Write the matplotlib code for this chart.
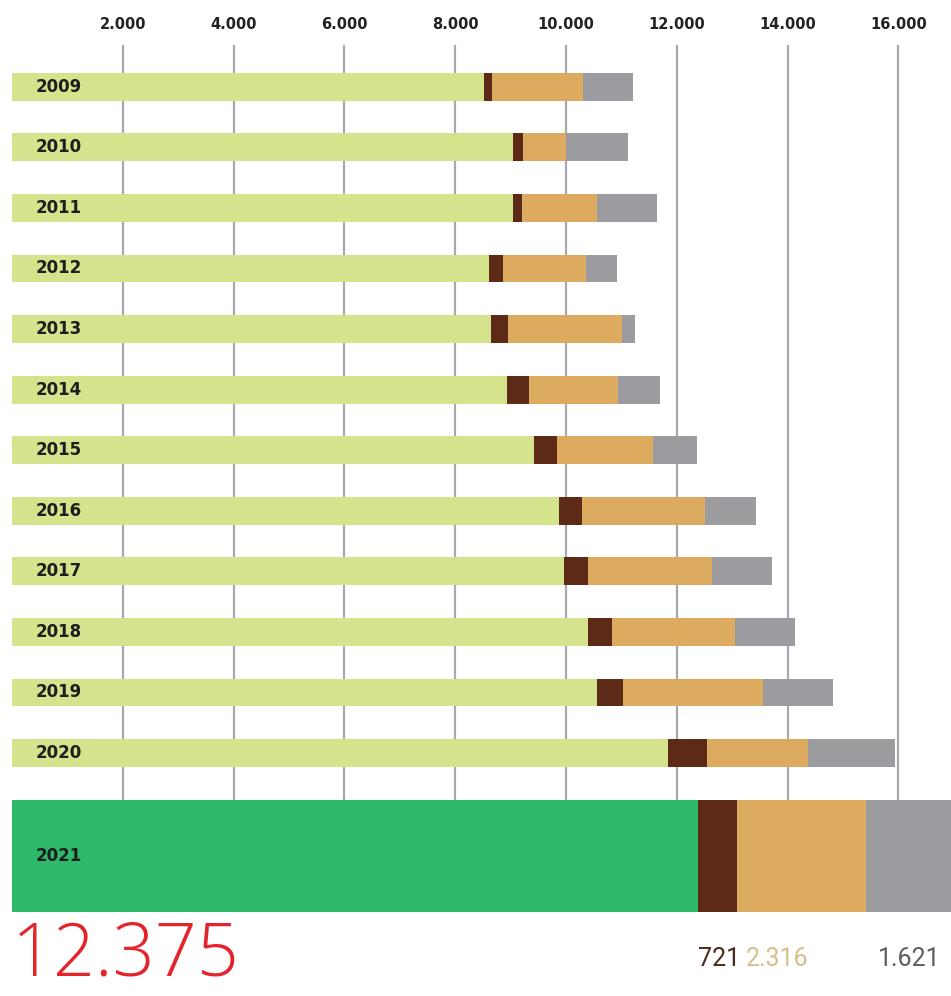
import matplotlib.pyplot as plt
import numpy as np

# Values (units per year)
years = ["2009", "2010", "2011", "2012", "2013", "2014", "2015",
         "2016", "2017", "2018", "2019", "2020", "2021"]
green = [8520, 9040, 9040, 8610, 8650, 8940, 9420, 9870, 9960, 10400, 10560, 11840, 12375]
brown = [145, 180, 160, 250, 305, 395, 415, 415, 435, 435, 470, 705, 721]
tan = [1645, 775, 1355, 1500, 2060, 1605, 1735, 2220, 2240, 2220, 2525, 1825, 2316]
gray = [905, 1120, 1085, 560, 235, 760, 795, 920, 1085, 1085, 1265, 1570, 1621]
ticks = [2000, 4000, 6000, 8000, 10000, 12000, 14000, 16000]

LIGHT_GREEN = "#d5e38c"
GREEN = "#2fb96b"
BROWN = "#5c2a16"
TAN = "#dcab5f"
GRAY = "#9c9ba0"
RED = "#e3242b"


def fmt(v):
    return f"{v:,.0f}".replace(",", ".")


fig = plt.figure(figsize=(9.51, 9.96), dpi=100)
ax = fig.add_axes([12 / 951, 1 - 912 / 996, 939 / 951, (912 - 45) / 996])

# the last year is drawn as a big highlighted bar
n = len(years)
ypos = np.array(list(range(n - 1)) + [n - 2 + 1.7])
heights = np.array([0.46] * (n - 1) + [1.85])
face = [LIGHT_GREEN] * (n - 1) + [GREEN]

g = np.array(green)
b = np.array(brown)
t = np.array(tan)
ax.barh(ypos, g, height=heights, color=face, zorder=2)
ax.barh(ypos, b, left=g, height=heights, color=BROWN, zorder=2)
ax.barh(ypos, t, left=g + b, height=heights, color=TAN, zorder=2)
ax.barh(ypos, gray, left=g + b + t, height=heights, color=GRAY, zorder=2)

for y, yr in zip(ypos, years):
    ax.annotate(yr, xy=(0, y), xytext=(17, 0), textcoords="offset points",
                ha="left", va="center", fontsize=12, fontweight="bold",
                color="#1e1e1e", zorder=3)

ax.set_xlim(0, 16950)
ax.set_ylim(ypos[-1] + heights[-1] / 2, -0.69)
ax.set_xticks(ticks)
ax.set_xticklabels([fmt(v) for v in ticks], fontweight="bold", fontsize=10.5,
                   color="#222222")
ax.xaxis.tick_top()
ax.tick_params(axis="x", length=0, pad=9)
ax.set_yticks([])
ax.grid(axis="x", color="#a8a8b0", linewidth=1.6)
ax.set_axisbelow(True)
for s in ax.spines.values():
    s.set_visible(False)

# numbers under the highlighted bar
bottom = ypos[-1] + heights[-1] / 2
under = dict(annotation_clip=False, textcoords="offset points", va="baseline")
ax.annotate(fmt(green[-1]), xy=(0, bottom), xytext=(0, -46), ha="left",
            fontsize=53, color=RED, family=["Open Sans", "DejaVu Sans"],
            fontweight="light", **under)
small = dict(family=["Roboto", "DejaVu Sans"], fontweight="normal", fontsize=18)
ax.annotate(fmt(brown[-1]), xy=(green[-1], bottom), xytext=(0, -39), ha="left",
            color="#4a2a1c", **small, **under)
ax.annotate(fmt(tan[-1]), xy=(green[-1] + brown[-1], bottom), xytext=(6, -39),
            ha="left", color="#d9bd8c", **small, **under)
ax.annotate(fmt(gray[-1]), xy=(green[-1] + brown[-1] + tan[-1], bottom),
            xytext=(9, -39), ha="left", color="#5e5e5e", **small, **under)

fig.savefig("out.png", dpi=100)
